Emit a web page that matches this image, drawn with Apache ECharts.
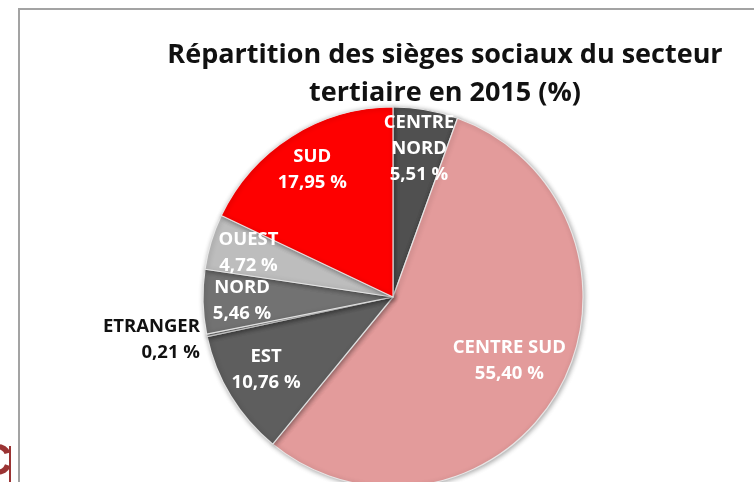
<!DOCTYPE html>
<html>
<head>
<meta charset="utf-8">
<script src="https://cdn.jsdelivr.net/npm/echarts@6/dist/echarts.min.js"></script>
<style>
  html, body { margin: 0; padding: 0; background: #fff; }
  #chart { width: 754px; height: 482px; }
</style>
</head>
<body>
<div id="chart"></div>
<script>
// données (sens horaire depuis midi)
var regions = ['CENTRE\nNORD', 'CENTRE SUD', 'EST', 'ETRANGER', 'NORD', 'OUEST', 'SUD']
var parts = [5.51, 55.40, 10.76, 0.21, 5.46, 4.72, 17.95]
var couleurs = ['#505050', '#e39b9b', '#5e5e5e', '#8a8a8a', '#727272', '#bdbdbd', '#fe0000']

var chart = echarts.init(document.getElementById('chart'))

var font = '"Open Sans", Lato, sans-serif'
var center = [393, 297]
var radius = 190

var pieData = []
var labelData = []
for (var i = 0; i < regions.length; i++) {
  pieData.push({
    name: regions[i],
    value: parts[i],
    itemStyle: { color: couleurs[i] }
  })
  var item = { name: regions[i], value: parts[i] }
  if (regions[i] === 'ETRANGER') {
    // étiquette à l'extérieur, en noir
    item.label = { position: 'outside', color: '#111', offset: [0, 4] }
  } else if (regions[i] === 'CENTRE SUD') {
    item.label = { offset: [-15, -11] } // plus près du centre
  } else if (regions[i] === 'EST') {
    item.label = { offset: [2, -6] }
  }
  labelData.push(item)
}

var option = {
  backgroundColor: '#fff',
  animation: false,
  title: {
    text: 'Répartition des sièges sociaux du secteur\ntertiaire en 2015 (%)',
    left: 440,
    top: 31,
    textAlign: 'center',
    textStyle: {
      fontFamily: font,
      fontWeight: 'bold',
      fontSize: 27,
      lineHeight: 38,
      color: '#111'
    }
  },
  graphic: [
    {
      type: 'rect',
      shape: { x: 19, y: 9, width: 760, height: 500 },
      style: { fill: 'none', stroke: '#a3a3a3', lineWidth: 2 },
      z: 0
    },
    {
      type: 'line',
      shape: { x1: 10, y1: 446, x2: 10, y2: 482 },
      style: { stroke: '#9b3434', lineWidth: 2 }
    },
    {
      type: 'text',
      x: -20,
      y: 441,
      style: {
        text: 'C',
        fill: '#9b3434',
        font: 'bold 44px "Liberation Sans", sans-serif'
      }
    }
  ],
  series: [
    {
      // le camembert
      type: 'pie',
      center: center,
      radius: [0, radius],
      startAngle: 90,
      clockwise: true,
      silent: true,
      label: { show: false },
      labelLine: { show: false },
      itemStyle: {
        borderColor: 'rgba(235,235,235,0.9)',
        borderWidth: 1.2,
        shadowColor: 'rgba(0,0,0,0.35)',
        shadowBlur: 5,
        shadowOffsetX: 1,
        shadowOffsetY: 1
      },
      data: pieData
    },
    {
      // anneau invisible qui porte les étiquettes
      type: 'pie',
      center: center,
      radius: [106, radius],
      startAngle: 90,
      clockwise: true,
      silent: true,
      avoidLabelOverlap: false,
      labelLayout: { hideOverlap: false },
      itemStyle: { color: 'rgba(0,0,0,0)' },
      label: {
        show: true,
        position: 'inside',
        fontFamily: font,
        fontWeight: 'bold',
        fontSize: 18.5,
        lineHeight: 26,
        color: '#fff',
        formatter: function (p) {
          return p.name + '\n' + p.value.toFixed(2).replace('.', ',') + ' %'
        }
      },
      labelLine: { show: false, length: 2, length2: 0 },
      data: labelData
    }
  ]
}

chart.setOption(option)
</script>
</body>
</html>
